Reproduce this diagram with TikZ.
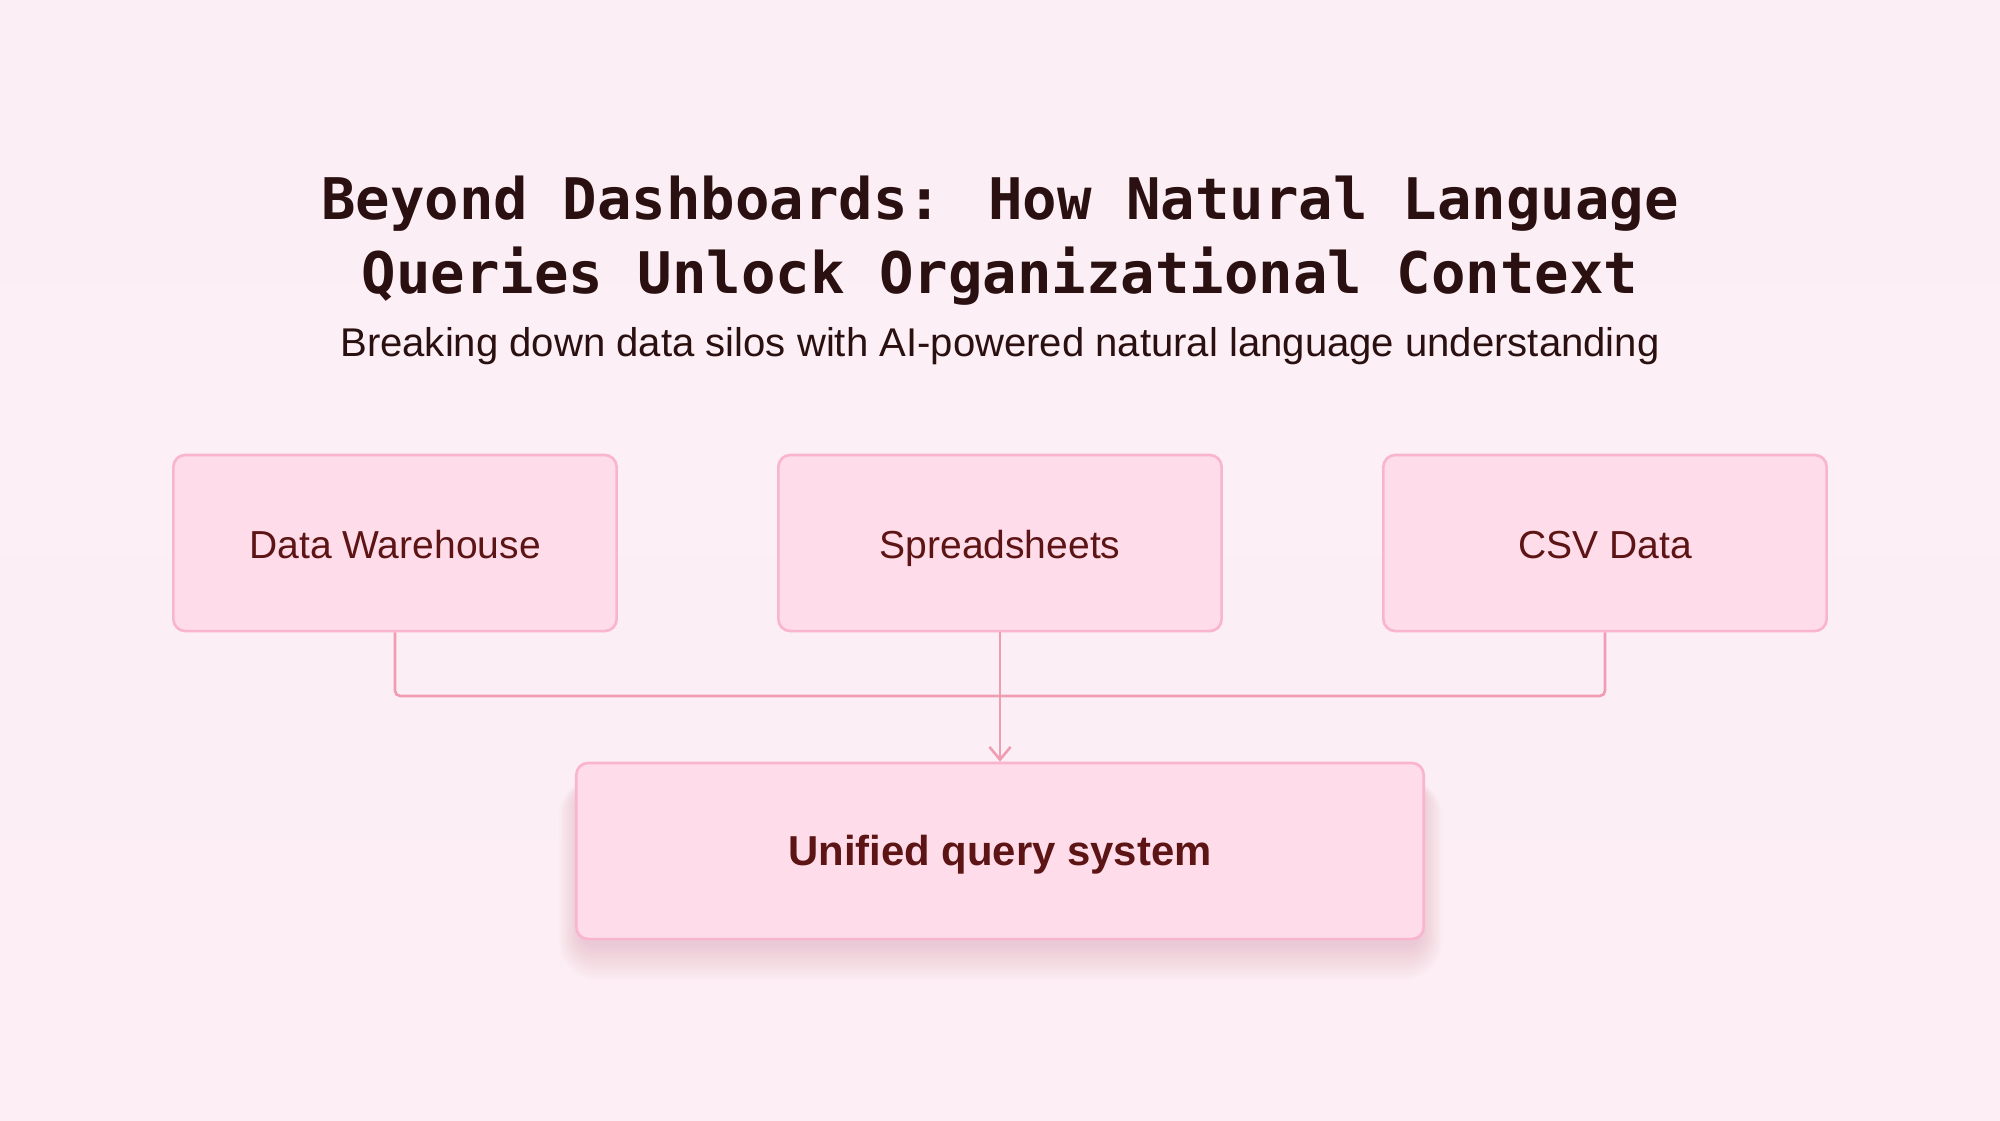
\documentclass[tikz,border=0pt]{standalone}
\usepackage{fontspec}
\setmainfont{Liberation Sans}
\newfontfamily\titlemono{DejaVu Sans Mono}
\usetikzlibrary{arrows.meta}
\definecolor{bgtop}{HTML}{FBEFF5}
\definecolor{bgbot}{HTML}{FDEEF5}
\definecolor{boxfill}{HTML}{FEDCEA}
\definecolor{boxdraw}{HTML}{F8B5CD}
\definecolor{linkcol}{HTML}{EE9DB3}
\definecolor{titlecol}{HTML}{2A1010}
\definecolor{labelcol}{HTML}{5C1414}
\definecolor{shadowcol}{HTML}{B07088}
\tikzset{
  titletext/.style={font=\titlemono\bfseries\fontsize{16.3}{20}\selectfont, text=titlecol, anchor=base, inner sep=0pt},
  subtext/.style={font=\fontsize{11.4}{14}\selectfont, text=titlecol, anchor=base, inner sep=0pt},
  srcbox/.style={draw=boxdraw, fill=boxfill, line width=0.75pt, rounded corners=3.4pt,
     minimum width=4.43cm, minimum height=1.76cm, font=\fontsize{11.1}{13}\selectfont,
     text=labelcol, text height=0.9em, text depth=0pt, inner sep=0pt},
  mainbox/.style={srcbox, minimum width=8.47cm, font=\bfseries\fontsize{11.9}{14}\selectfont, text height=0.84em},
  softshadow/.style={fill=shadowcol, fill opacity=0.011, draw=none},
  link/.style={draw=linkcol, line width=0.75pt, rounded corners=1.5pt},
}
\begin{document}
\begin{tikzpicture}[x=0.01cm, y=-0.01cm]
  \shade[top color=bgtop, bottom color=bgbot] (0,0) rectangle (2000,1120);
  \useasboundingbox (0,0) rectangle (2000,1120);

  \node[titletext] (t1) at (1000,219) {Beyond Dashboards: How Natural Language};
  \node[titletext] (t2) at (1000,293) {Queries Unlock Organizational Context};
  \node[subtext] (st) at (1000,356) {Breaking down data silos with AI-powered natural language understanding};

  \node[srcbox] (b1) at (395,543) {Data Warehouse};
  \node[srcbox] (b2) at (1000,543) {Spreadsheets};
  \node[srcbox] (b3) at (1605,543) {CSV Data};

  % soft shadow under the unified box
  \foreach \s in {2,4,...,36} {
    \fill[softshadow, rounded corners=4pt+0.2pt*\s]
      (580-0.6*\s,785-0.2*\s) rectangle (1421+0.6*\s,945+\s);
  }
  \node[mainbox] (uq) at (1000,851) {Unified query system};

  \coordinate (hub) at (1000,696);
  \draw[link] (b1.south) |- (hub) -| (b3.south);
  \draw[link, -{Straight Barb[length=3.6pt, width=6pt]}] (b2.south) -- (uq.north);
\end{tikzpicture}
\end{document}
